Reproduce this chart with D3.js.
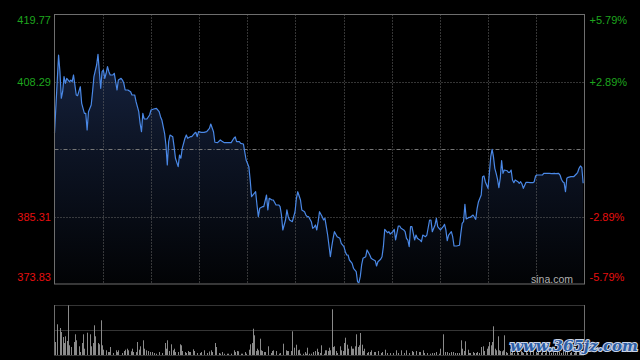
<!DOCTYPE html>
<html><head><meta charset="utf-8">
<script src="https://cdn.jsdelivr.net/npm/d3@7"></script>
<style>
html,body{margin:0;padding:0;background:#000;}
svg{display:block;}
text{font-family:"Liberation Sans",Arial,sans-serif;}
</style></head>
<body>
<svg id="chart" width="640" height="360"></svg>
<script>
// ---- data (minutes since open, price) ----
const prevClose = 396.80;
const priceTicks = [419.77, 408.29, 385.31, 373.83];
const pctTicks = ["+5.79%", "+2.89%", "-2.89%", "-5.79%"];
const minutes = [0,3,4,5,6,7,8,9,11,12,13,14,16,17,19,20,22,23,24,25,27,28,29,31,32,33,34,35,36,37,38,39,40,41,43,44,45,46,47,49,50,51,52,54,56,57,59,60,62,63,64,65,66,68,70,71,73,75,77,78,79,81,82,83,84,85,87,88,89,91,92,93,94,96,97,98,100,101,103,104,105,106,108,110,112,114,115,117,118,120,122,123,125,127,130,132,133,134,136,137,139,141,143,144,145,147,148,149,150,151,153,154,156,157,158,160,161,163,165,166,167,168,170,171,172,173,175,176,177,178,179,181,182,184,185,186,187,189,190,191,192,193,194,195,197,198,199,200,201,203,204,205,206,208,210,211,213,214,215,216,217,219,220,222,223,224,225,226,227,229,230,232,233,234,236,237,238,240,241,242,243,245,246,247,249,250,251,253,254,255,257,258,259,260,261,262,263,265,266,267,268,269,270,271,273,274,276,277,278,280,281,282,283,284,286,287,288,289,290,292,293,294,295,296,298,299,300,301,302,303,304,305,306,308,309,310,311,312,314,315,316,317,318,319,320,321,322,323,324,325,326,327,328,329,330,331,333,334,335,336,337,338,339,341,342,343,344,345,347,348,350,352,353,354,355,357,359,360,362,364,366,368,369,371,372,373,374,375,376,377,378,380,381,382,384,385,386,387,388,389];
const prices = [399.52,412.87,410.02,405.49,406.61,409.17,408.04,408.89,408.31,408.60,408.31,409.46,406.05,405.93,407.46,404.63,402.93,402.93,400.08,403.20,404.34,406.61,409.17,411.16,412.99,410.02,407.19,410.02,410.31,408.89,409.75,410.87,410.02,409.46,409.46,409.75,408.31,406.90,408.60,408.89,408.60,408.04,406.90,406.90,406.61,406.05,406.05,404.91,403.20,401.22,399.79,402.93,401.96,401.96,402.64,403.49,403.66,403.78,403.20,402.35,401.79,399.52,397.52,394.12,398.09,399.23,398.94,397.24,395.26,393.83,395.82,395.26,396.96,398.67,399.23,398.67,398.94,398.94,399.52,399.69,398.94,399.79,399.69,399.69,399.79,400.37,401.10,399.79,397.99,397.92,398.38,398.21,397.92,397.92,397.92,398.67,398.89,398.09,398.09,397.81,397.70,394.97,393.83,391.56,388.71,389.29,389.56,387.30,385.30,386.73,387.01,387.01,389.00,386.45,388.44,388.15,388.15,387.30,387.30,387.01,385.59,383.04,384.74,386.45,385.30,384.74,384.45,385.30,386.15,388.44,389.56,388.15,386.45,386.15,385.59,385.30,385.30,384.45,383.33,383.50,383.89,383.04,384.45,386.15,385.30,384.74,385.03,383.60,382.18,378.48,380.19,381.62,382.75,381.89,381.62,380.77,380.19,379.34,378.77,378.77,377.92,377.36,376.51,375.93,374.22,374.05,375.08,377.07,378.21,378.48,379.63,378.77,378.21,378.04,377.80,376.90,377.63,378.04,378.48,380.19,383.16,382.58,382.75,382.35,382.75,383.16,381.33,383.72,383.72,383.33,383.04,382.75,381.62,381.33,380.19,383.60,383.60,381.33,382.18,381.62,381.45,381.33,381.04,382.18,381.89,382.18,384.74,384.74,382.75,383.89,385.03,383.60,383.33,383.04,383.60,384.01,383.04,381.21,382.18,382.75,381.89,380.31,380.31,380.31,380.43,382.47,384.18,384.45,387.42,384.91,385.03,385.20,385.20,385.59,385.20,384.86,386.73,387.86,389.00,392.12,392.24,391.27,390.71,390.14,392.70,395.53,396.79,395.53,393.55,392.70,391.68,390.25,391.85,394.85,392.70,393.26,393.14,392.87,392.87,393.26,391.56,391.10,391.56,391.27,391.00,391.27,390.88,390.14,391.17,391.17,391.10,391.10,391.27,392.24,392.41,392.41,392.41,392.70,392.70,392.70,392.63,392.70,392.63,392.70,392.41,391.68,391.27,391.10,389.56,391.85,392.02,392.12,392.12,392.12,392.58,392.87,393.55,393.95,393.72,391.00];
// ---- volume (minutes, volume in hundreds) ----
const volMinutes = [0,2,4,5,6,7,8,9,10,11,12,14,15,16,18,19,20,21,22,24,26,27,28,29,30,32,33,34,35,36,38,39,40,41,43,45,46,47,50,51,52,53,54,56,57,58,60,61,62,63,65,66,67,69,70,72,73,75,77,79,81,82,83,84,86,87,88,89,91,92,93,94,96,97,98,99,100,102,103,105,107,108,110,112,114,115,116,118,119,121,122,123,125,127,128,130,132,133,134,135,137,138,140,141,143,144,145,146,147,148,149,150,151,152,153,154,155,157,159,160,161,163,165,166,168,170,171,172,174,175,176,178,179,180,181,183,184,185,186,187,189,190,192,193,194,195,196,198,199,200,201,202,203,204,205,206,207,208,210,211,212,213,214,215,216,218,219,220,221,222,223,224,225,226,227,228,230,231,232,233,235,236,238,240,241,243,245,247,249,251,253,255,257,259,261,263,264,266,268,269,271,272,274,276,278,279,281,283,284,286,287,289,290,292,293,295,296,298,299,300,301,302,304,305,306,308,309,310,311,312,314,315,316,318,319,320,321,322,323,324,325,326,327,328,329,330,331,332,333,335,336,337,338,340,341,343,344,345,347,348,350,352,354,355,356,358,359,361,362,364,365,367,368,370,371,373,374,376,377,379,380,382,383,384,386,387,389];
const volumes = [130,307,270,230,180,120,187,140,497,97,80,130,207,147,87,30,120,207,63,223,207,87,120,297,187,120,107,347,97,53,47,30,30,80,20,47,30,47,20,40,53,63,47,37,63,30,30,130,53,87,147,63,47,40,30,30,20,13,30,20,120,63,147,40,107,47,63,30,30,107,97,40,30,20,40,30,30,57,40,20,20,30,47,20,35,47,30,120,80,20,13,30,13,13,13,13,47,30,40,37,13,13,30,13,53,107,120,263,197,40,63,47,163,47,40,30,30,87,20,40,47,40,13,20,113,47,40,40,40,237,73,103,47,53,13,13,30,13,73,13,13,30,40,63,30,20,97,13,47,47,40,73,47,457,80,87,40,20,87,47,40,120,173,103,63,87,63,63,87,207,80,97,220,103,40,63,20,30,30,47,30,30,40,20,30,53,20,20,20,47,20,47,20,47,20,40,30,40,30,30,47,20,20,13,20,20,30,13,63,207,30,30,20,30,30,20,20,20,147,63,40,137,53,20,20,30,20,20,30,20,80,87,40,63,87,130,97,130,287,63,47,187,47,40,37,47,197,30,20,63,20,40,20,30,20,40,30,20,40,20,30,60,30,20,40,20,30,20,40,30,20,30,20,40,30,20,50,30,40,20,30,20,40,30,60,30,40];

const svg = d3.select("#chart");
const L = 54.5, R = 584.5, T = 14.5, B = 284, VT = 305, VB = 355;

const x = d3.scaleLinear().domain([0, 390]).range([L, R]);
const y = d3.scaleLinear().domain([373.83, 419.77]).range([B, T]);
const yv = d3.scaleLinear().domain([0, 500]).range([VB, VT]);

const defs = svg.append("defs");
const grad = defs.append("linearGradient").attr("id", "fillg")
  .attr("gradientUnits", "userSpaceOnUse").attr("x1", 0).attr("x2", 0).attr("y1", T).attr("y2", B);
grad.append("stop").attr("offset", 0).attr("stop-color", "#19284a");
grad.append("stop").attr("offset", 0.45).attr("stop-color", "#0e1628");
grad.append("stop").attr("offset", 1).attr("stop-color", "#020305");

// area + line
const pts = minutes.map((m, i) => [m, prices[i]]);
svg.append("path").datum(pts)
  .attr("d", d3.area().x(d => x(d[0])).y0(B).y1(d => y(d[1])))
  .attr("fill", "url(#fillg)");

// grid
const gridColor = "#6a6a6a";
const vLines = d3.range(1, 11).map(i => i * 390 / 11);
svg.append("g").selectAll("line").data(vLines).join("line")
  .attr("x1", d => Math.round(x(d)) + 0.5).attr("x2", d => Math.round(x(d)) + 0.5)
  .attr("y1", T).attr("y2", B)
  .attr("stroke", gridColor).attr("stroke-width", 1).attr("stroke-dasharray", "1,2");
svg.append("g").selectAll("line").data([priceTicks[1], priceTicks[2]]).join("line")
  .attr("x1", L).attr("x2", R)
  .attr("y1", d => Math.round(y(d)) + 0.5).attr("y2", d => Math.round(y(d)) + 0.5)
  .attr("stroke", gridColor).attr("stroke-dasharray", "1,2");
svg.append("line").attr("x1", L).attr("x2", R)
  .attr("y1", Math.round(y(prevClose)) + 0.5).attr("y2", Math.round(y(prevClose)) + 0.5)
  .attr("stroke", "#777").attr("stroke-dasharray", "4,2,1,2");

// price line
svg.append("path").datum(pts)
  .attr("d", d3.line().x(d => x(d[0])).y(d => y(d[1])))
  .attr("fill", "none").attr("stroke", "#4a88e6").attr("stroke-width", 1.2)
  .attr("stroke-linejoin", "round");

// frame price
svg.append("rect").attr("x", L).attr("y", T).attr("width", R - L).attr("height", B - T)
  .attr("fill", "none").attr("stroke", "#6e6e6e").attr("stroke-width", 1);

// labels
const labelY = [20, y(priceTicks[1]), y(priceTicks[2]), 277.5];
const colors = ["#1ea51e", "#1ea51e", "#e60f0f", "#e60f0f"];
svg.append("g").selectAll("text").data(priceTicks).join("text")
  .attr("x", 51).attr("y", (d, i) => labelY[i]).attr("dy", "0.35em")
  .attr("text-anchor", "end").attr("font-size", 11)
  .attr("fill", (d, i) => colors[i]).text(d => d.toFixed(2));
svg.append("g").selectAll("text").data(pctTicks).join("text")
  .attr("x", 589.5).attr("y", (d, i) => labelY[i]).attr("dy", "0.35em")
  .attr("text-anchor", "start").attr("font-size", 11)
  .attr("fill", (d, i) => colors[i]).text(d => d);

svg.append("text").attr("x", 573).attr("y", 279).attr("dy", "0.35em")
  .attr("text-anchor", "end").attr("font-size", 10.5).attr("fill", "#b0b0b0").text("sina.com");

// volume panel
svg.append("g").selectAll("line").data([VT, 330, VB]).join("line")
  .attr("x1", L).attr("x2", R).attr("y1", d => d + 0.5).attr("y2", d => d + 0.5)
  .attr("stroke", gridColor).attr("stroke-dasharray", "1,1");
svg.append("g").selectAll("line").data([L, R]).join("line")
  .attr("x1", d => d).attr("x2", d => d).attr("y1", VT).attr("y2", VB)
  .attr("stroke", "#6e6e6e");
svg.append("g").selectAll("rect").data(volMinutes).join("rect")
  .attr("x", d => Math.round(x(d)))
  .attr("width", 1)
  .attr("y", (d, i) => yv(volumes[i]))
  .attr("height", (d, i) => VB - yv(volumes[i]))
  .attr("fill", "#8a8a8a");

// watermark
svg.append("text").attr("x", 574).attr("y", 351)
  .attr("text-anchor", "middle")
  .style("font-family", "'DejaVu Serif', serif").attr("font-weight", "bold").attr("font-style", "italic")
  .attr("font-size", 15).attr("fill", "#2c5ea6").attr("stroke", "#c9d3e6").attr("stroke-width", 2.2)
  .attr("paint-order", "stroke").text("www.365jz.com");
</script>
</body></html>
